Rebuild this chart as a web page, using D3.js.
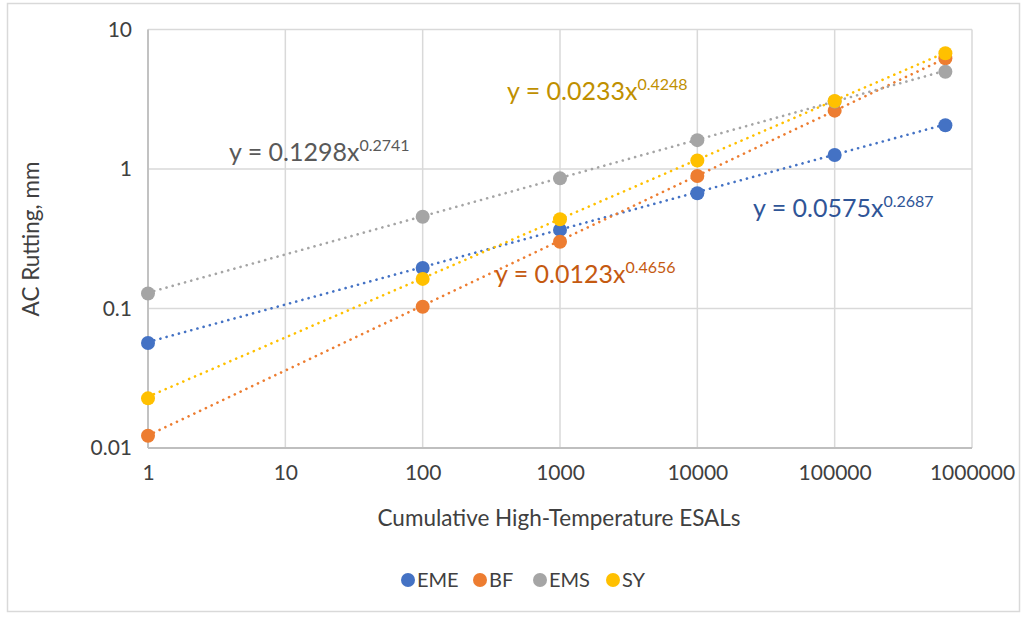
<!DOCTYPE html>
<html><head><meta charset="utf-8">
<script src="https://cdn.jsdelivr.net/npm/d3@7"></script>
<style>body{margin:0;background:#fff}svg{display:block}</style>
</head><body>
<script>
const xValues = [1, 100, 1000, 10000, 100000, 640000];
const seriesNames = ["EME", "BF", "EMS", "SY"];
const seriesColors = ["#4472C4", "#ED7D31", "#A5A5A5", "#FFC000"];
const labelColors = ["#2F5597", "#C55A11", "#595959", "#BF9000"];
const emeValues = [0.0566, 0.195, 0.366, 0.67, 1.26, 2.06];
const bfValues = [0.01225, 0.103, 0.301, 0.89, 2.62, 6.22];
const emsValues = [0.128, 0.455, 0.857, 1.61, 3.05, 4.98];
const syValues = [0.0227, 0.163, 0.436, 1.15, 3.07, 6.75];
const trendA = [0.0575, 0.0123, 0.1298, 0.0233];
const trendB = [0.2687, 0.4656, 0.2741, 0.4248];
const xTicks = [1, 10, 100, 1000, 10000, 100000, 1000000];
const yTicks = [0.01, 0.1, 1, 10];

const W = 1029, H = 617;
const FONT = "Lato, 'Noto Sans', sans-serif";
const svg = d3.select("body").append("svg").attr("width", W).attr("height", H)
  .style("font-family", FONT);

svg.append("rect").attr("x", 7.5).attr("y", 3.5).attr("width", 1012).attr("height", 608)
  .attr("fill", "#fff").attr("stroke", "#d9d9d9").attr("stroke-width", 1.5);

const x = d3.scaleLog().domain([1, 1000000]).range([148, 972]);
const y = d3.scaleLog().domain([0.01, 10]).range([448, 29.5]);

// grid
const g = svg.append("g");
g.selectAll(".vg").data(xTicks).join("line")
  .attr("x1", d => x(d)).attr("x2", d => x(d)).attr("y1", y(10)).attr("y2", y(0.01))
  .attr("stroke", "#d9d9d9").attr("stroke-width", 1.5);
g.selectAll(".hg").data(yTicks).join("line")
  .attr("x1", x(1)).attr("x2", x(1000000)).attr("y1", d => y(d)).attr("y2", d => y(d))
  .attr("stroke", "#d9d9d9").attr("stroke-width", 1.5);
// axis lines
g.append("line").attr("x1", x(1)).attr("x2", x(1)).attr("y1", y(10)).attr("y2", y(0.01))
  .attr("stroke", "#bfbfbf").attr("stroke-width", 1.8);
g.append("line").attr("x1", x(1)).attr("x2", x(1000000)).attr("y1", y(0.01)).attr("y2", y(0.01))
  .attr("stroke", "#bfbfbf").attr("stroke-width", 1.8);

// tick labels via axes
const xAxis = d3.axisBottom(x).tickValues(xTicks).tickFormat(d3.format("d")).tickSize(0).tickPadding(17);
const xa = svg.append("g").attr("transform", `translate(0,${y(0.01)})`).call(xAxis);
const yAxis = d3.axisLeft(y).tickValues(yTicks).tickFormat(d => d >= 1 ? d3.format("d")(d) : String(d)).tickSize(0).tickPadding(16);
const ya = svg.append("g").attr("transform", `translate(${x(1)},0)`).call(yAxis);
[xa, ya].forEach(a => {
  a.select(".domain").remove();
  a.selectAll("text").attr("fill", "#404040").style("font-size", "21px").style("font-family", FONT);
});

svg.append("text").attr("x", 559).attr("y", 526).attr("text-anchor", "middle")
  .attr("fill", "#404040").style("font-size", "22.5px").text("Cumulative High-Temperature ESALs");
svg.append("text").attr("transform", "translate(39,239) rotate(-90)").attr("text-anchor", "middle")
  .attr("fill", "#404040").style("font-size", "22.5px").text("AC Rutting, mm");

const allValues = [emeValues, bfValues, emsValues, syValues];
const line = d3.line().x(d => x(d[0])).y(d => y(d[1]));
const xMax = xValues[xValues.length - 1];
// trendlines
seriesNames.forEach((n, i) => {
  const pts = [1, xMax].map(v => [v, trendA[i] * Math.pow(v, trendB[i])]);
  svg.append("path").attr("d", line(pts)).attr("fill", "none")
    .attr("stroke", seriesColors[i]).attr("stroke-width", 2.6)
    .attr("stroke-linecap", "round").attr("stroke-dasharray", "0.1,6.3");
});
// markers
seriesNames.forEach((n, i) => {
  svg.append("g").selectAll("circle").data(xValues.map((v, j) => [v, allValues[i][j]])).join("circle")
    .attr("cx", d => x(d[0])).attr("cy", d => y(d[1])).attr("r", 7)
    .attr("fill", seriesColors[i]);
});

// equation labels
const eqPos = [[753, 217], [495, 283], [229, 161], [507, 100]];
seriesNames.forEach((n, i) => {
  const t = svg.append("text").attr("x", eqPos[i][0]).attr("y", eqPos[i][1])
    .attr("fill", labelColors[i]).style("font-size", "25px");
  t.append("tspan").text(`y = ${trendA[i].toFixed(4)}x`);
  t.append("tspan").attr("dy", -10).style("font-size", "16px").text(trendB[i].toFixed(4));
});

// legend
const legX = [408, 480, 540, 613];
seriesNames.forEach((n, i) => {
  svg.append("circle").attr("cx", legX[i]).attr("cy", 580).attr("r", 7).attr("fill", seriesColors[i]);
  svg.append("text").attr("x", legX[i] + 9).attr("y", 587).attr("fill", "#404040")
    .style("font-size", "20px").text(n);
});
</script>
</body></html>
